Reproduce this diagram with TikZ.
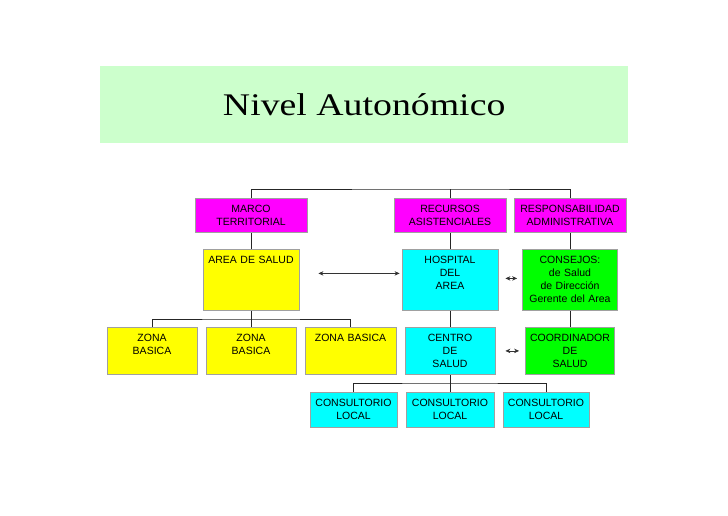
\documentclass[tikz,border=0pt]{standalone}
\usepackage{fontspec}
\setmainfont{Liberation Sans}
\newfontfamily\titlefont[FakeStretch=1.2]{Liberation Serif}
\usepackage{xcolor}
\usetikzlibrary{arrows.meta}
\definecolor{bandgreen}{RGB}{204,255,204}
\definecolor{edgegray}{RGB}{160,160,160}
\definecolor{boxmagenta}{RGB}{255,0,255}
\definecolor{boxyellow}{RGB}{255,255,0}
\definecolor{boxcyan}{RGB}{0,255,255}
\definecolor{boxgreen}{RGB}{0,255,0}

\begin{document}
\begin{tikzpicture}[
  x=1pt, y=-1pt,
  font=\fontsize{10.5}{13}\selectfont,
  box/.style={draw=edgegray, line width=0.8pt, anchor=north, align=center, inner sep=0pt, text height=14pt},
  terr/.style={box, fill=boxmagenta},
  area/.style={box, fill=boxyellow},
  asis/.style={box, fill=boxcyan},
  admin/.style={box, fill=boxgreen},
  link/.style={draw=black!85, line width=0.9pt},
  twoway/.style={{Stealth[length=5pt,width=4.5pt]}-{Stealth[length=5pt,width=4.5pt]}, line width=0.7pt, draw=black!80}
]
\useasboundingbox (0,0) rectangle (728,515);
\node[fill=bandgreen, minimum width=528pt, minimum height=77pt, inner sep=0pt, anchor=north west,
  font=\titlefont\fontsize{31.5}{36}\selectfont] (Title) at (100,66) {Nivel Autonómico};

\node[terr, text width=112pt, text depth=20pt] (Marco) at (251,198) {MARCO\\TERRITORIAL};
\node[terr, text width=112pt, text depth=20pt] (Recursos) at (450,198) {RECURSOS\\ASISTENCIALES};
\node[terr, text width=112pt, text depth=20pt] (Resp) at (570,198) {RESPONSABILIDAD\\ADMINISTRATIVA};

\node[area, text width=96pt, text depth=47pt] (Area) at (251,249) {AREA DE SALUD};
\node[asis, text width=96pt, text depth=47pt] (Hosp) at (450,249) {HOSPITAL\\DEL\\AREA};
\node[admin, text width=95pt, text depth=47pt] (Consejos) at (570,249) {CONSEJOS:\\de Salud\\de Dirección\\Gerente del Area};

\node[area, text width=90pt, text depth=33pt] (ZonaA) at (152,327) {ZONA\\BASICA};
\node[area, text width=90pt, text depth=33pt] (ZonaB) at (251,327) {ZONA\\BASICA};
\node[area, text width=91pt, text depth=33pt] (ZonaC) at (350.5,327) {ZONA BASICA};
\node[asis, text width=90pt, text depth=33pt] (Centro) at (450,327) {CENTRO\\DE\\SALUD};
\node[admin, text width=89pt, text depth=33pt] (Coord) at (570,327) {COORDINADOR\\DE\\SALUD};

\node[asis, text width=87pt, text depth=21pt] (ConsA) at (353.5,392) {CONSULTORIO\\LOCAL};
\node[asis, text width=88pt, text depth=21pt] (ConsB) at (450,392) {CONSULTORIO\\LOCAL};
\node[asis, text width=86pt, text depth=21pt] (ConsC) at (546,392) {CONSULTORIO\\LOCAL};

\coordinate (TopBus) at (450,189);
\coordinate (ZonaBus) at (251,319);
\coordinate (ConsBus) at (450,383);

\draw[link] (Marco.north) |- (TopBus) -| (Resp.north);
\draw[link] (Recursos.north) -- (TopBus);
\draw[link] (Marco.south) -- (Area.north);
\draw[link] (Recursos.south) -- (Hosp.north);
\draw[link] (Resp.south) -- (Consejos.north);
\draw[link] (Area.south) -- (ZonaB.north);
\draw[link] (ZonaA.north) |- (ZonaBus) -| (ZonaC.north);
\draw[link] (Hosp.south) -- (Centro.north);
\draw[link] (Consejos.south) -- (Coord.north);
\draw[link] (Centro.south) -- (ConsB.north);
\draw[link] (ConsA.north) |- (ConsBus) -| (ConsC.north);

\draw[twoway] ([shift={(19,-6.5)}]Area.east) -- ([shift={(-2,-6.5)}]Hosp.west);
\draw[twoway] ([shift={(7,-1.5)}]Hosp.east) -- ([shift={(-5,-1.5)}]Consejos.west);
\draw[twoway] ([xshift=10pt]Centro.east) -- ([xshift=-6pt]Coord.west);
\end{tikzpicture}
\end{document}
